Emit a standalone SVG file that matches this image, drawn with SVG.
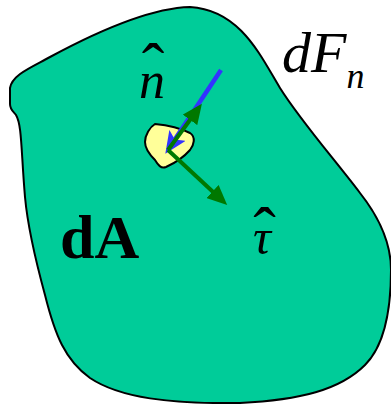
<svg xmlns="http://www.w3.org/2000/svg" width="391" height="404" viewBox="0 0 391 404">
<style>
.serif{font-family:"Liberation Serif","Times New Roman",serif;fill:#000}
.it{font-style:italic}
.hat{font-style:normal;font-size:68px}
.g{stroke:#007800;stroke-width:4;fill:none}
.b{stroke:#3333FF;stroke-width:4.5;fill:none}
</style>
<defs>
<marker id="ahG" markerUnits="userSpaceOnUse" markerWidth="20" markerHeight="18" viewBox="0 0 18 16" refX="4" refY="8" orient="auto">
<path d="M0,0 L18,8 L0,16 Z" fill="#007800"/>
</marker>
<marker id="ahB" markerUnits="userSpaceOnUse" markerWidth="22" markerHeight="20" viewBox="0 0 18 16" refX="4" refY="8" orient="auto">
<path d="M0,0 L18,8 L0,16 L4,8 Z" fill="#3333FF"/>
</marker>
</defs>
<g id="surface">
<path d="M190,7 C150,8 100,30 50,57 C30,68 12,75 10,88 L10,104 C10,110 14,112 16,115 C22,125 21,150 25,197 C28,230 36,262 45,295 C55,335 65,360 90,378 C120,398 170,404 240,403 C300,400 340,390 365,365 C385,345 391,310 391,270 C391,240 375,212 360,193 C335,160 300,120 280,88 C260,55 240,10 190,7 Z" fill="#00CC99" stroke="#000" stroke-width="2"/>
</g>
<g id="patch">
<path d="M155,124 C165,125 180,128 190,133 C196,137 194,145 190,150 C183,158 175,163 166,167 C161,169 158,165 155,160 C150,155 145,148 145,142 C145,135 150,127 155,124 Z" fill="#FFFF99" stroke="#000" stroke-width="2"/>
</g>
<g id="connectors">
<line class="b" x1="221" y1="70" x2="174.8" y2="139.4" marker-end="url(#ahB)"/>
<line class="g" x1="168" y1="150" x2="192.7" y2="116.3" marker-end="url(#ahG)"/>
<line class="g" x1="168" y1="150" x2="215.8" y2="194.5" marker-end="url(#ahG)"/>
</g>
<g id="label-n">
<text class="serif it" x="139" y="98" font-size="52">n<tspan class="hat" x="141.7" y="90">ˆ</tspan></text>
</g>
<g id="label-dFn">
<text class="serif it" x="282" y="72" font-size="58">dF<tspan font-size="36" dy="16">n</tspan></text>
</g>
<g id="label-tau">
<text class="serif it" x="253" y="254" font-size="50">τ<tspan class="hat" x="253.2" y="254">ˆ</tspan></text>
</g>
<g id="label-dA">
<text class="serif" x="60" y="258" font-size="62" font-weight="bold">dA</text>
</g>
</svg>
